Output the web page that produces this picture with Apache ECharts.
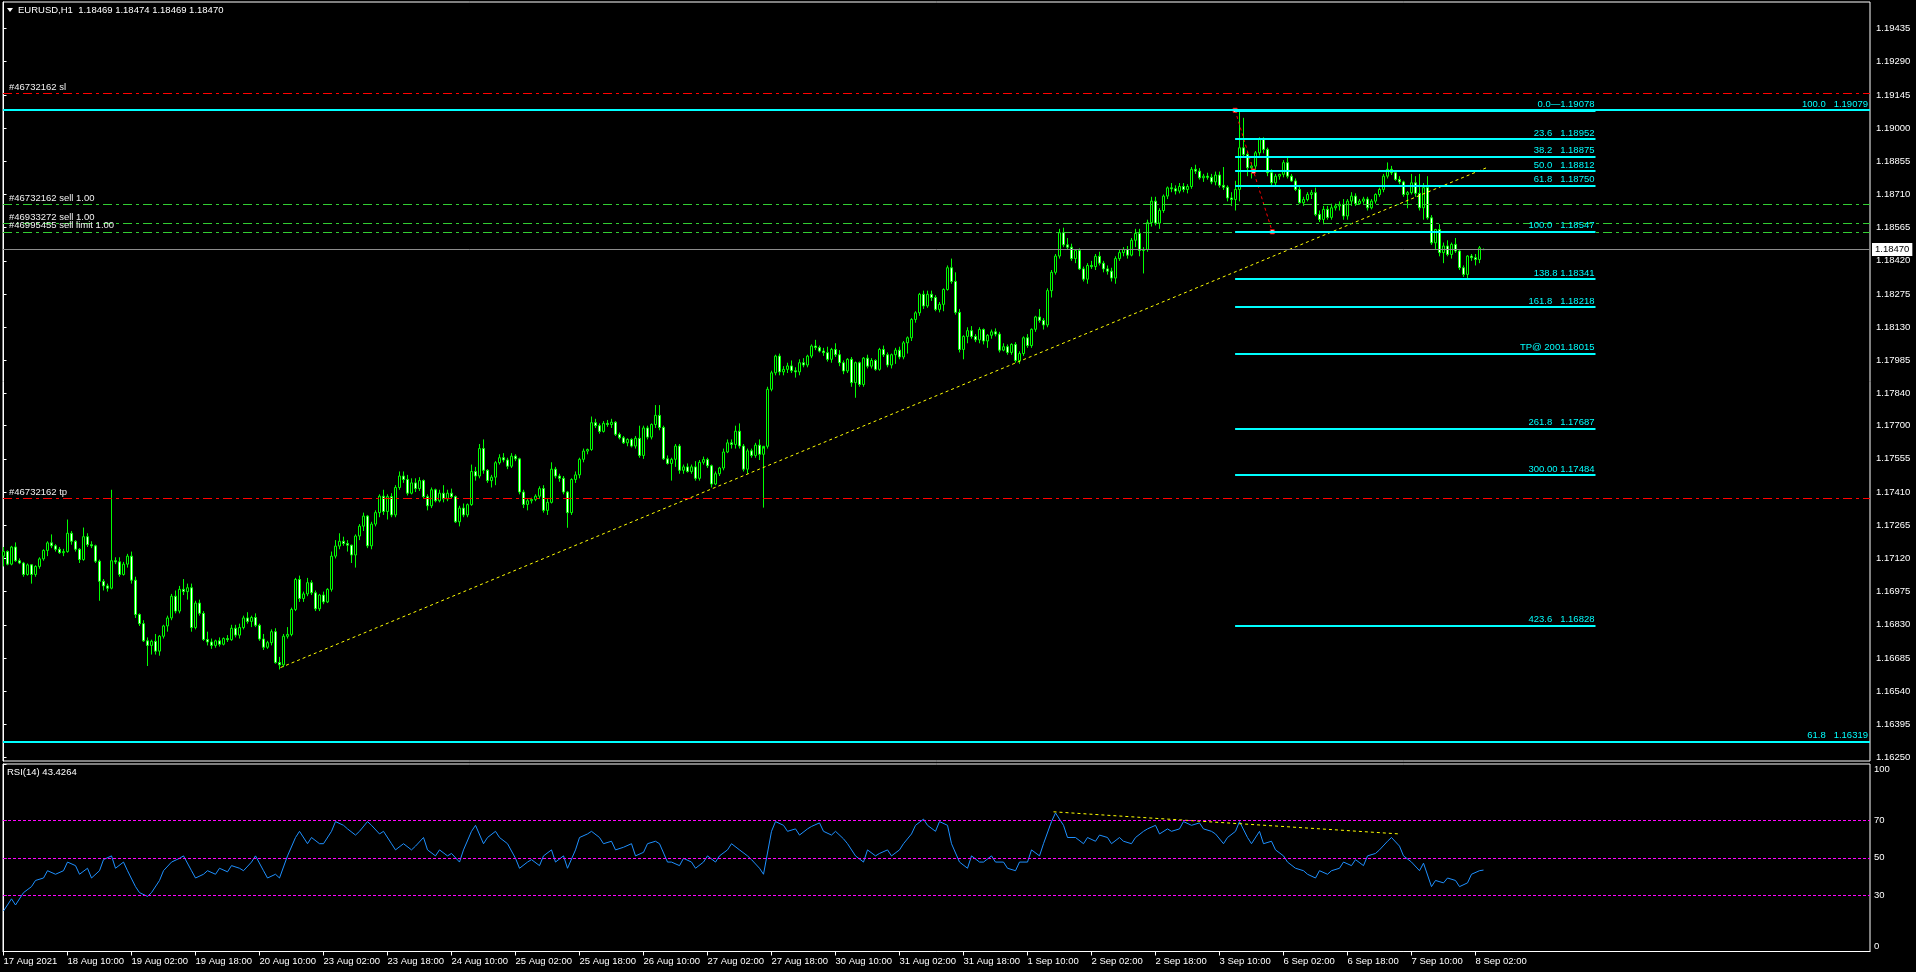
<!DOCTYPE html>
<html><head><meta charset="utf-8">
<script src="https://cdn.jsdelivr.net/npm/echarts@6/dist/echarts.min.js"></script>
<style>html,body{margin:0;padding:0;background:#000;}#c{width:1916px;height:972px;}</style>
</head><body><div id="c"></div>
<script>
// ---------------- DATA ----------------
const headerText = 'EURUSD,H1  1.18469 1.18474 1.18469 1.18470';
const rsiTitle = 'RSI(14) 43.4264';
const timeLabels = ['17 Aug 2021','18 Aug 10:00','19 Aug 02:00','19 Aug 18:00','20 Aug 10:00','23 Aug 02:00','23 Aug 18:00','24 Aug 10:00','25 Aug 02:00','25 Aug 18:00','26 Aug 10:00','27 Aug 02:00','27 Aug 18:00','30 Aug 10:00','31 Aug 02:00','31 Aug 18:00','1 Sep 10:00','2 Sep 02:00','2 Sep 18:00','3 Sep 10:00','6 Sep 02:00','6 Sep 18:00','7 Sep 10:00','8 Sep 02:00'];
const timeLabelBars = [0,16,32,48,64,80,96,112,128,144,160,176,192,208,224,240,256,272,288,304,320,336,352,368];
const priceTicks = [1.16250,1.16395,1.16540,1.16685,1.16830,1.16975,1.17120,1.17265,1.17410,1.17555,1.17700,1.17840,1.17985,1.18130,1.18275,1.18420,1.18565,1.18710,1.18855,1.19000,1.19145,1.19290,1.19435];
const rsiTicks = [0,30,50,70,100];
const rsiLevels = [70,50,30];
const lastPrice = 1.18470;
// hourly bars: [open, high, low, close] in points above 1.00000
const ohlc = [
[17130,17170,17085,17150],[17150,17155,17090,17095],[17095,17175,17090,17170],[17170,17190,17105,17110],[17110,17120,17095,17100],
[17100,17105,17040,17050],[17050,17098,17045,17092],[17092,17095,17010,17050],[17050,17090,17040,17085],[17085,17125,17075,17118],
[17118,17160,17110,17155],[17155,17195,17130,17188],[17188,17225,17165,17175],[17175,17182,17150,17160],[17160,17170,17140,17145],
[17145,17162,17130,17150],[17150,17290,17145,17230],[17230,17240,17180,17195],[17195,17200,17150,17160],[17160,17165,17100,17115],
[17115,17255,17110,17215],[17215,17230,17170,17180],[17180,17195,17165,17175],[17175,17180,17100,17108],[17108,17115,16935,17020],
[17020,17030,16980,17000],[17000,17010,16975,16990],[16990,17420,16985,17110],[17110,17125,17095,17105],[17105,17125,17040,17050],
[17050,17105,17045,17095],[17095,17140,17080,17130],[17130,17150,17010,17025],[17025,17040,16860,16875],[16875,16880,16825,16835],
[16835,16850,16755,16760],[16760,16775,16650,16740],[16740,16765,16700,16758],[16758,16790,16700,16715],[16715,16785,16695,16780],
[16780,16830,16770,16825],[16825,16870,16800,16860],[16860,16965,16850,16955],[16955,16980,16880,16890],[16890,17000,16880,16985],
[16985,17030,16960,16975],[16975,17010,16940,16992],[16992,17010,16800,16818],[16818,16935,16810,16925],[16925,16940,16870,16880],
[16880,16890,16760,16766],[16766,16800,16740,16755],[16755,16770,16725,16740],[16740,16765,16730,16760],[16760,16775,16735,16745],
[16745,16775,16740,16770],[16770,16785,16755,16765],[16765,16830,16760,16815],[16815,16830,16775,16785],[16785,16835,16770,16818],
[16818,16870,16810,16860],[16860,16885,16835,16845],[16845,16870,16820,16862],[16862,16880,16820,16828],[16828,16835,16760,16768],
[16768,16790,16720,16732],[16732,16760,16725,16752],[16752,16810,16740,16800],[16800,16815,16660,16665],[16665,16690,16635,16655],
[16655,16790,16645,16780],[16780,16820,16770,16788],[16788,16905,16780,16897],[16897,17035,16890,17028],[17028,17045,16930,16945],
[16945,16975,16930,16965],[16965,17035,16955,17014],[17014,17025,16960,16970],[16970,16980,16890,16900],[16900,16965,16890,16960],
[16960,16975,16920,16930],[16930,16990,16925,16985],[16985,17150,16975,17130],[17130,17200,17120,17174],[17174,17230,17160,17195],
[17195,17215,17175,17185],[17185,17200,17150,17178],[17178,17180,17100,17135],[17135,17225,17080,17218],[17218,17270,17200,17261],
[17261,17320,17240,17305],[17305,17310,17165,17175],[17175,17280,17160,17270],[17270,17330,17260,17320],[17320,17400,17300,17392],
[17392,17420,17310,17325],[17325,17400,17290,17390],[17390,17405,17300,17310],[17310,17440,17300,17430],[17430,17500,17420,17480],
[17480,17500,17450,17465],[17465,17485,17395,17405],[17405,17470,17400,17450],[17450,17470,17410,17425],[17425,17475,17415,17460],
[17460,17465,17380,17390],[17390,17400,17330,17350],[17350,17430,17340,17420],[17420,17425,17365,17372],[17372,17420,17365,17405],
[17405,17440,17365,17380],[17380,17420,17370,17405],[17405,17425,17380,17390],[17390,17395,17275,17280],[17280,17350,17260,17340],
[17340,17360,17300,17310],[17310,17360,17300,17355],[17355,17530,17350,17500],[17500,17520,17460,17480],[17480,17620,17470,17600],
[17600,17640,17490,17505],[17505,17510,17450,17460],[17460,17485,17430,17475],[17475,17545,17440,17538],[17538,17575,17530,17560],
[17560,17580,17540,17550],[17550,17560,17510,17523],[17523,17580,17515,17567],[17567,17575,17545,17555],[17555,17560,17400,17410],
[17410,17420,17340,17356],[17356,17380,17330,17372],[17372,17385,17360,17378],[17378,17400,17370,17392],[17392,17435,17380,17425],
[17425,17440,17320,17330],[17330,17380,17310,17365],[17365,17540,17360,17510],[17510,17520,17470,17480],[17480,17490,17455,17470],
[17470,17480,17400,17410],[17410,17415,17254,17320],[17320,17470,17310,17465],[17465,17500,17450,17485],[17485,17560,17470,17553],
[17553,17600,17540,17589],[17589,17600,17575,17596],[17596,17740,17590,17713],[17713,17730,17690,17700],[17700,17710,17665,17675],
[17675,17720,17670,17710],[17710,17725,17695,17705],[17705,17730,17690,17715],[17715,17720,17655,17662],[17662,17670,17640,17647],
[17647,17655,17620,17625],[17625,17645,17610,17640],[17640,17645,17605,17611],[17611,17655,17600,17645],[17645,17700,17560,17570],
[17570,17700,17555,17690],[17690,17700,17640,17650],[17650,17710,17640,17705],[17705,17790,17690,17745],[17745,17790,17680,17692],
[17692,17700,17550,17555],[17555,17570,17530,17535],[17535,17560,17460,17553],[17553,17620,17520,17611],[17611,17620,17490,17505],
[17505,17530,17490,17520],[17520,17535,17495,17500],[17500,17530,17490,17520],[17520,17545,17460,17470],[17470,17550,17460,17540],
[17540,17565,17530,17552],[17552,17560,17515,17525],[17525,17530,17430,17445],[17445,17500,17440,17490],[17490,17520,17480,17515],
[17515,17600,17505,17585],[17585,17640,17580,17625],[17625,17640,17600,17618],[17618,17700,17600,17676],[17676,17710,17600,17611],
[17611,17620,17500,17510],[17510,17600,17490,17590],[17590,17600,17560,17570],[17570,17625,17560,17615],[17615,17640,17550,17575],
[17575,17600,17342,17610],[17610,17870,17600,17859],[17859,17940,17850,17931],[17931,18010,17920,18004],[18004,18015,17920,17935],
[17935,17960,17920,17946],[17946,17975,17930,17961],[17961,17985,17930,17940],[17940,17955,17910,17935],[17935,17990,17920,17975],
[17975,17995,17955,17965],[17965,18010,17955,18004],[18004,18055,17995,18048],[18048,18075,18030,18041],[18041,18050,18020,18026],
[18026,18040,18005,18019],[18019,18045,17980,17990],[17990,18040,17975,18033],[18033,18060,18000,18010],[18010,18030,17960,17975],
[17975,17985,17925,17939],[17939,17995,17930,17990],[17990,18000,17870,17888],[17888,17980,17822,17975],[17975,17980,17870,17880],
[17880,18000,17870,17995],[17995,18010,17950,17960],[17960,17995,17950,17985],[17985,17990,17940,17946],[17946,18040,17940,18033],
[18033,18050,18000,18010],[18010,18020,17955,17965],[17965,18015,17950,18010],[18010,18040,17970,18030],[18030,18045,17990,18000],
[18000,18070,17990,18062],[18062,18090,18015,18084],[18084,18170,18070,18164],[18164,18200,18150,18193],[18193,18280,18180,18274],
[18274,18290,18210,18223],[18223,18290,18215,18274],[18274,18290,18245,18260],[18260,18270,18200,18208],[18208,18240,18195,18230],
[18230,18300,18200,18295],[18295,18400,18290,18390],[18390,18430,18320,18330],[18330,18370,18185,18195],[18195,18210,18020,18033],
[18033,18095,17990,18090],[18090,18130,18060,18115],[18115,18135,18080,18090],[18090,18100,18065,18075],[18075,18130,18060,18120],
[18120,18125,18055,18070],[18070,18100,18040,18095],[18095,18120,18080,18110],[18110,18125,18090,18100],[18100,18110,18020,18030],
[18030,18060,18025,18045],[18045,18055,18010,18020],[18020,18060,18010,18055],[18055,18065,17975,17985],[17985,18025,17970,18015],
[18015,18090,18005,18084],[18084,18100,18040,18050],[18050,18125,18040,18121],[18121,18180,18110,18175],[18175,18210,18150,18160],
[18160,18170,18120,18140],[18140,18300,18130,18290],[18290,18380,18260,18370],[18370,18450,18360,18441],[18441,18560,18430,18543],
[18543,18565,18480,18490],[18490,18520,18470,18480],[18480,18495,18420,18430],[18430,18470,18410,18465],[18465,18475,18380,18385],
[18385,18395,18330,18340],[18340,18410,18320,18400],[18400,18420,18385,18395],[18395,18450,18380,18440],[18440,18460,18400,18410],
[18410,18420,18370,18385],[18385,18400,18360,18375],[18375,18390,18330,18345],[18345,18440,18320,18430],[18430,18470,18420,18456],
[18456,18480,18440,18470],[18470,18485,18430,18445],[18445,18520,18440,18510],[18510,18560,18480,18540],[18540,18560,18440,18465],
[18465,18480,18365,18470],[18470,18600,18460,18587],[18587,18700,18570,18681],[18681,18700,18575,18585],[18585,18650,18560,18640],
[18640,18710,18630,18703],[18703,18745,18690,18739],[18739,18760,18720,18735],[18735,18750,18710,18725],[18725,18760,18715,18745],
[18745,18760,18720,18732],[18732,18755,18715,18745],[18745,18830,18735,18820],[18820,18840,18800,18812],[18812,18825,18775,18783],
[18783,18800,18765,18790],[18790,18805,18775,18785],[18785,18800,18755,18765],[18765,18810,18750,18795],[18795,18810,18740,18750],
[18750,18830,18730,18742],[18742,18750,18680,18695],[18695,18720,18660,18688],[18688,18770,18640,18732],[18732,19070,18680,18914],
[18914,19045,18870,18885],[18885,18900,18790,18827],[18827,18850,18780,18834],[18834,18900,18820,18892],[18892,18960,18880,18951],
[18951,18960,18890,18907],[18907,18915,18790,18805],[18805,18820,18750,18761],[18761,18800,18750,18790],[18790,18800,18775,18798],
[18798,18860,18785,18849],[18849,18870,18780,18790],[18790,18800,18765,18769],[18769,18780,18725,18732],[18732,18745,18670,18674],
[18674,18700,18660,18688],[18688,18720,18680,18710],[18710,18730,18690,18718],[18718,18740,18615,18623],[18623,18640,18590,18601],
[18601,18660,18580,18645],[18645,18660,18600,18610],[18610,18670,18600,18652],[18652,18670,18640,18660],[18660,18680,18640,18667],
[18667,18690,18600,18616],[18616,18690,18600,18681],[18681,18720,18660,18703],[18703,18715,18660,18670],[18670,18690,18665,18681],
[18681,18700,18670,18690],[18690,18700,18640,18652],[18652,18690,18645,18681],[18681,18715,18670,18710],[18710,18740,18700,18732],
[18732,18800,18720,18790],[18790,18850,18780,18820],[18820,18835,18795,18805],[18805,18815,18770,18776],[18776,18790,18755,18765],
[18765,18770,18700,18710],[18710,18725,18650,18718],[18718,18800,18710,18761],[18761,18790,18700,18715],[18715,18800,18640,18652],
[18652,18760,18600,18740],[18740,18790,18600,18608],[18608,18620,18490,18499],[18499,18560,18470,18557],[18557,18580,18440,18456],
[18456,18500,18410,18485],[18485,18510,18440,18448],[18448,18500,18430,18492],[18492,18520,18455,18463],[18463,18470,18380,18390],
[18390,18400,18350,18361],[18361,18445,18340,18441],[18441,18450,18420,18434],[18434,18450,18400,18426],[18426,18485,18410,18477],
[18469,18474,18469,18470]
];
// RSI(14) readings: [bar, value]
const rsiPts = [
[0,21.6],[2,28.1],[3,24.8],[5,31.4],[7,34.6],[8,37.9],[10,39.2],[11,43.1],[13,41.2],[15,43.1],[16,47.7],[18,45.8],[19,41.2],[21,44.4],[22,39.2],[24,43.1],[25,49.0],[27,51.0],[28,44.4],[30,47.7],
[31,43.1],[33,34.6],[34,31.4],[36,29.4],[37,31.4],[39,37.9],[40,43.1],[42,47.7],[44,49.7],[45,51.0],[47,43.1],[48,39.2],[50,41.2],[51,43.1],[53,41.2],[54,44.4],[56,42.5],[57,45.8],[59,44.4],[60,43.1],
[62,47.7],[63,51.0],[65,43.1],[66,39.2],[68,41.2],[69,39.2],[71,51.0],[73,60.8],[74,64.1],[76,57.5],[77,60.8],[79,57.5],[80,57.5],[82,64.1],[83,69.3],[85,67.3],[86,65.4],[88,62.1],[89,64.1],[91,69.3],
[92,67.3],[94,62.7],[95,64.1],[97,57.5],[98,54.2],[100,57.5],[102,54.2],[103,56.2],[105,60.8],[106,54.2],[108,51.0],[109,54.2],[111,51.0],[112,52.3],[114,47.7],[115,54.2],[117,64.1],[118,67.3],[120,57.5],[121,60.8],
[123,64.1],[124,60.8],[126,57.5],[128,49.7],[129,44.4],[131,47.7],[132,49.0],[134,45.8],[135,51.0],[137,54.2],[138,47.7],[140,51.0],[141,44.4],[143,54.2],[144,60.8],[146,62.7],[147,64.1],[149,60.8],[150,57.5],[152,58.8],
[153,54.2],[155,55.6],[157,57.5],[158,51.0],[160,52.9],[161,57.5],[163,58.8],[164,57.5],[166,47.7],[167,47.7],[169,45.8],[170,49.7],[172,47.7],[173,44.4],[175,47.7],[176,51.0],[178,47.7],[179,51.0],[181,54.2],[182,57.5],
[184,54.2],[186,51.0],[187,49.0],[189,44.4],[190,41.2],[192,64.1],[193,69.3],[195,67.3],[196,64.1],[198,65.4],[199,62.1],[201,65.4],[202,66.7],[204,68.6],[205,64.1],[207,62.1],[208,64.1],[210,60.1],[211,57.5],[213,51.0],
[215,47.7],[216,54.2],[218,51.0],[219,52.3],[221,54.2],[222,51.0],[224,54.2],[225,57.5],[227,62.7],[228,67.3],[230,70.6],[231,67.3],[233,64.1],[234,69.3],[236,67.3],[237,57.5],[239,47.7],[241,44.4],[242,51.0],[244,47.7],
[245,47.7],[247,51.0],[248,47.7],[250,47.7],[251,44.4],[253,43.1],[254,47.7],[256,47.7],[257,54.2],[259,51.0],[260,57.5],[262,69.3],[263,73.9],[265,67.3],[266,60.8],[268,60.8],[270,57.5],[271,60.8],[273,58.8],[274,62.1],
[276,60.8],[277,57.5],[279,60.8],[280,58.8],[282,57.5],[283,60.8],[285,64.1],[286,65.4],[288,67.3],[289,62.7],[291,65.4],[292,64.1],[294,65.4],[295,69.3],[297,67.3],[299,68.6],[300,65.4],[302,64.1],[303,62.7],[305,57.5],
[306,60.8],[308,64.1],[309,69.3],[311,60.8],[312,57.5],[314,64.1],[315,57.5],[317,58.8],[318,54.2],[320,51.0],[321,47.7],[323,44.4],[325,43.1],[326,41.2],[328,39.2],[329,43.1],[331,41.2],[332,43.1],[334,44.4],[335,47.7],
[337,45.8],[338,49.0],[340,45.8],[341,51.0],[343,52.3],[344,54.2],[346,58.8],[347,60.8],[349,56.2],[350,51.0],[352,47.7],[354,43.1],[355,47.1],[357,34.6],[358,37.9],[360,36.6],[361,39.2],[363,37.9],[364,34.6],[366,36.6],
[367,41.2],[369,43.1],[370,43.43]
];
// Fibonacci retracement / expansion (bars from..to), levels
const fibFromBar = 307.9, fibToBar = 398;
const fibLabels = ['0.0—1.19078','23.6   1.18952','38.2   1.18875','50.0   1.18812','61.8   1.18750','100.0   1.18547','138.8 1.18341','161.8   1.18218','TP@ 2001.18015','261.8   1.17687','300.00 1.17484','423.6   1.16828'];
const fibPrices = [1.19078,1.18952,1.18875,1.18812,1.18750,1.18547,1.18341,1.18218,1.18015,1.17687,1.17484,1.16828];
const outerFibLabels = ['100.0   1.19079','61.8   1.16319'];
const outerFibPrices = [1.19079,1.16319];
const orderLabels = ['#46732162 sl','#46732162 sell 1.00','#46933272 sell 1.00','#46995455 sell limit 1.00','#46732162 tp'];
const orderPrices = [1.19152,1.18666,1.18586,1.18547,1.17383];
const orderKinds = ['stop','open','open','pending','stop'];
const trendBars = [69.25, 370.9], trendPrices = [1.16643, 1.18828];
const anchorBars = [307.9, 312.5, 317.2], anchorPrices = [1.19078, 1.18812, 1.18547];
const rsiTrendBars = [262.5, 349], rsiTrendValues = [74.5, 62.7];

// ---------------- CHART ----------------
const F = '"Liberation Sans", Arial, sans-serif';
const FS = 9.5;
const P = v => +(1 + v * 1e-5).toFixed(5);
const candles = ohlc.map((d, i) => [i, P(d[0]), P(d[3]), P(d[2]), P(d[1])]);
const xMin = -0.125, xMax = 466.625;
const CY = '#00ffff', DASHDOT = [9, 4, 3, 4];
const orderColor = {stop: '#ff0000', open: '#32cd32', pending: '#32cd32'};

const mlData = [];
orderLabels.forEach((t, k) => mlData.push({
  yAxis: orderPrices[k],
  lineStyle: {color: orderColor[orderKinds[k]], type: DASHDOT, width: 1},
  label: {show: true, formatter: t, position: 'insideStartTop', distance: [6, 1], color: '#f0f0f0', fontSize: FS, fontFamily: F}
}));
outerFibLabels.forEach((t, k) => mlData.push({
  yAxis: outerFibPrices[k],
  lineStyle: {color: CY, type: 'solid', width: 2},
  label: {show: true, formatter: t, position: 'insideEndTop', distance: [2, 1], color: CY, fontSize: FS, fontFamily: F}
}));
fibLabels.forEach((t, k) => mlData.push([
  {coord: [fibFromBar, fibPrices[k]], lineStyle: {color: CY, type: 'solid', width: 2},
   label: {show: true, formatter: t, position: 'insideEndTop', distance: [1, 1], color: CY, fontSize: FS, fontFamily: F}},
  {coord: [fibToBar, fibPrices[k]]}
]));
mlData.push({
  yAxis: lastPrice,
  lineStyle: {color: '#8c8c8c', type: 'solid', width: 1},
  label: {show: true, position: 'end', formatter: lastPrice.toFixed(5), distance: 2, backgroundColor: '#ffffff', color: '#000', padding: [2, 3, 1, 3], fontSize: FS, fontFamily: F}
});

const option = {
  backgroundColor: '#000',
  animation: false,
  textStyle: {fontFamily: F},
  grid: [
    {left: 3, top: 2, width: 1867, height: 759, show: true, borderColor: '#fff', borderWidth: 1, backgroundColor: 'transparent'},
    {left: 3, top: 764, width: 1867, height: 187.5, show: true, borderColor: '#fff', borderWidth: 1, backgroundColor: 'transparent'}
  ],
  xAxis: [
    {type: 'value', gridIndex: 0, min: xMin, max: xMax, show: false},
    {type: 'value', gridIndex: 1, min: xMin, max: xMax,
     axisLine: {show: true, lineStyle: {color: '#fff'}}, splitLine: {show: false},
     axisTick: {show: true, length: 4, customValues: timeLabelBars, lineStyle: {color: '#fff'}},
     axisLabel: {customValues: timeLabelBars, formatter: v => timeLabels[timeLabelBars.indexOf(Math.round(v))] || '',
       color: '#fff', fontSize: FS, align: 'left', margin: 5, fontFamily: F}}
  ],
  yAxis: [
    {type: 'value', gridIndex: 0, position: 'right', min: 1.16235, max: 1.19551, scale: true,
     splitLine: {show: false}, axisLine: {show: true, lineStyle: {color: '#fff'}},
     axisTick: {show: true, length: 3, customValues: priceTicks, lineStyle: {color: '#fff'}},
     axisLabel: {customValues: priceTicks, formatter: v => v.toFixed(5), color: '#fff', fontSize: FS, margin: 6, fontFamily: F}},
    {type: 'value', gridIndex: 1, position: 'right', min: 0, max: 100,
     splitLine: {show: false}, axisLine: {show: true, lineStyle: {color: '#fff'}},
     axisTick: {show: true, length: 3, customValues: rsiTicks, lineStyle: {color: '#fff'}},
     axisLabel: {customValues: rsiTicks, color: '#fff', fontSize: FS, margin: 4, fontFamily: F,
       verticalAlignMaxLabel: 'top', verticalAlignMinLabel: 'bottom'}}
  ],
  series: [
    {type: 'candlestick', xAxisIndex: 0, yAxisIndex: 0, data: candles, encode: {x: 0, y: [1, 2, 3, 4]},
     barWidth: 3, silent: true,
     itemStyle: {color: '#000000', color0: '#ffffff', borderColor: '#00ff00', borderColor0: '#00ff00', borderColorDoji: '#00ff00', borderWidth: 1}},
    {type: 'line', xAxisIndex: 0, yAxisIndex: 0, silent: true, z: 3,
     data: trendBars.map((b, k) => [b, trendPrices[k]]), showSymbol: false, symbol: 'none',
     lineStyle: {color: '#ffff00', width: 1, type: [3, 3]},
     markLine: {silent: true, symbol: ['none', 'none'], animation: false, precision: 5, data: mlData}},
    {type: 'line', xAxisIndex: 0, yAxisIndex: 0, silent: true, z: 4,
     data: anchorBars.map((b, k) => [b, anchorPrices[k]]), symbol: 'rect', symbolSize: 4, showSymbol: true,
     itemStyle: {color: '#ffffff', borderColor: '#ff0000', borderWidth: 1},
     lineStyle: {color: '#ff0000', width: 1, type: [3, 3]}},
    {type: 'line', xAxisIndex: 1, yAxisIndex: 1, silent: true,
     data: rsiPts, showSymbol: false, symbol: 'none',
     lineStyle: {color: '#1e90ff', width: 1},
     markLine: {silent: true, symbol: ['none', 'none'], animation: false, precision: 2, label: {show: false},
       lineStyle: {color: '#ff00ff', type: [3, 2], width: 1},
       data: rsiLevels.map(v => ({yAxis: v}))}},
    {type: 'line', xAxisIndex: 1, yAxisIndex: 1, silent: true,
     data: rsiTrendBars.map((b, k) => [b, rsiTrendValues[k]]), showSymbol: false, symbol: 'none',
     lineStyle: {color: '#ffff00', width: 1, type: [3, 3]}}
  ],
  graphic: [
    {type: 'polygon', shape: {points: [[7, 8], [13, 8], [10, 12]]}, style: {fill: '#fff'}, silent: true},
    {type: 'text', x: 18, y: 10, silent: true, style: {text: headerText, fill: '#fff', fontSize: FS, fontFamily: F, verticalAlign: 'middle'}},
    {type: 'text', x: 7, y: 772, silent: true, style: {text: rsiTitle, fill: '#fff', fontSize: FS, fontFamily: F, verticalAlign: 'middle'}}
  ]
};
const chart = echarts.init(document.getElementById('c'), null, {renderer: 'canvas'});
chart.setOption(option);
</script></body></html>
